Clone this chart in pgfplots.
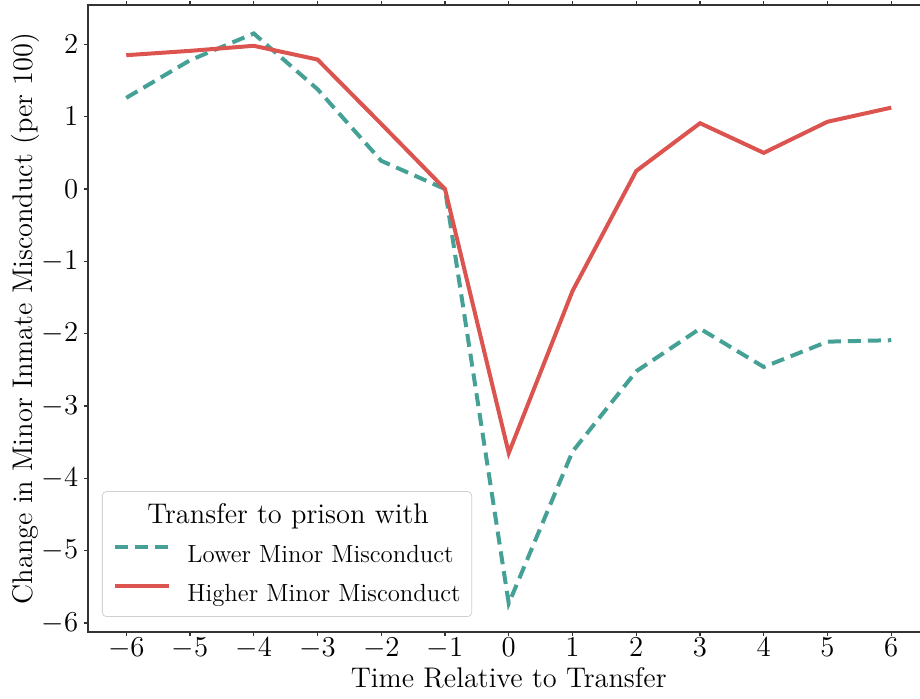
\documentclass[border=0pt]{standalone}
\usepackage{pgfplots}
\pgfplotsset{compat=1.18}
\usetikzlibrary{calc}
\definecolor{teal1}{HTML}{45A096}
\definecolor{red1}{HTML}{DB5450}
\begin{document}
\begin{tikzpicture}
\begin{axis}[
  scale only axis,
  width=420.75pt, height=313.5pt,
  xmin=-6.6, xmax=6.6, ymin=-6.124, ymax=2.544,
  xtick={-6,...,6}, ytick={-6,...,2},
  tick align=outside, major tick length=1.9pt,
  tick style={black!80, line width=0.6pt},
  axis line style={black!80, line width=0.6pt},
  tick label style={font=\fontsize{13.8}{16}\selectfont},
  xticklabel style={anchor=base, yshift=-10.5pt},
  yticklabel style={anchor=east, inner sep=0pt, xshift=-2.8pt},
  label style={font=\fontsize{14.2}{16}\selectfont},
  xlabel={Time Relative to Transfer},
  ylabel={Change in Minor Inmate Misconduct (per 100)},
  xlabel style={at={(axis description cs:0.5,0)}, anchor=base, yshift=-27.5pt},
  ylabel style={at={([xshift=-27.5pt]axis description cs:0,0.5)}, anchor=base},
  legend image code/.code={\draw[#1] (0pt,0.35em) -- (27pt,0.35em);},
  legend cell align=left,
  legend style={at={(0.0166,0.024)}, anchor=south west,
    draw=black!18, rounded corners=2pt, fill=white, fill opacity=0.8, text opacity=1,
    font=\fontsize{12.4}{14}\selectfont, row sep=6pt,
    nodes={inner sep=0pt, text height=11pt, text depth=2.5pt},
    /tikz/every odd column/.append style={column sep=8pt},
    inner xsep=5.5pt, inner ysep=5pt},
]
\addlegendimage{empty legend}
\addlegendentry{\hspace*{-20pt}\fontsize{14.2}{16}\selectfont Transfer to prison with}
\addplot[teal1, line width=2pt, dash pattern=on 6.5pt off 3.5pt] coordinates {
(-6,1.26) (-5,1.78) (-4,2.15) (-3,1.38) (-2,0.39) (-1,0) (0,-5.73)
(1,-3.63) (2,-2.52) (3,-1.93) (4,-2.46) (5,-2.11) (6,-2.09)};
\addlegendentry{Lower Minor Misconduct}
\addplot[red1, line width=2pt] coordinates {
(-6,1.85) (-5,1.91) (-4,1.98) (-3,1.79) (-2,0.90) (-1,0) (0,-3.65)
(1,-1.41) (2,0.25) (3,0.91) (4,0.50) (5,0.93) (6,1.125)};
\addlegendentry{Higher Minor Misconduct}
\end{axis}
\pgfresetboundingbox
\path ($(current axis.south west)+(-44pt,-33pt)$) rectangle ($(current axis.north east)+(-4.75pt,2.5pt)$);
\end{tikzpicture}
\end{document}
